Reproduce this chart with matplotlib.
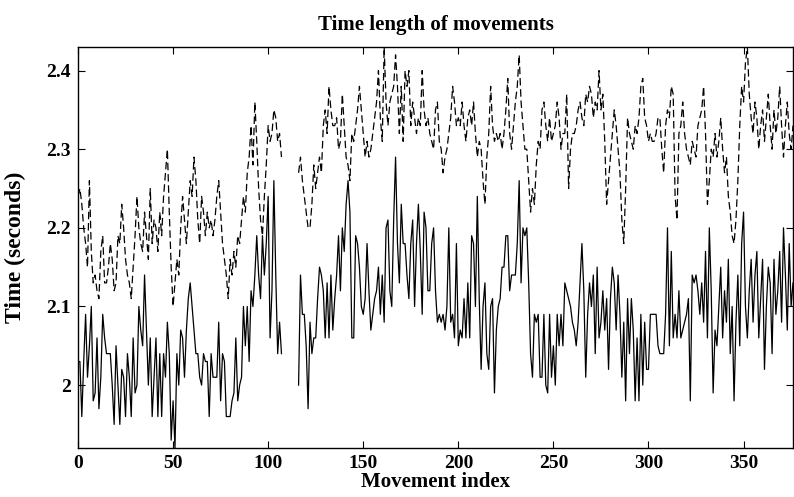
import numpy as np
import matplotlib
matplotlib.use('Agg')
import matplotlib.pyplot as plt
from matplotlib.ticker import FormatStrFormatter

nan = np.nan

# time of each movement, solid trace (seconds)
solid = np.array([
    2.03, 2.03, 1.96, 2.03, 2.09, 2.01, 2.05, 2.10, 1.98, 1.99,
    2.06, 1.97, 2.01, 2.09, 2.06, 2.04, 2.04, 2.04, 2.00, 1.95,
    2.05, 2.00, 1.95, 2.02, 2.01, 1.96, 2.04, 2.01, 1.96, 2.06,
    1.99, 2.00, 2.10, 2.07, 2.05, 2.14, 2.07, 2.00, 2.06, 1.96,
    2.01, 2.06, 1.96, 2.04, 1.96, 2.04, 2.01, 2.08, 2.04, 1.93,
    1.98, 1.92, 2.04, 2.00, 2.07, 2.06, 2.01, 2.07, 2.11, 2.13,
    2.10, 2.07, 2.04, 2.04, 2.01, 2.00, 2.04, 2.03, 2.03, 1.96,
    2.04, 2.01, 2.01, 2.01, 2.08, 1.98, 2.04, 2.03, 1.96, 1.96,
    1.96, 1.98, 1.99, 2.06, 1.98, 2.00, 2.01, 2.10, 2.05, 2.10,
    2.03, 2.12, 2.10, 2.14, 2.19, 2.14, 2.11, 2.19, 2.14, 2.18,
    2.24, 2.06, 2.12, 2.26, 2.14, 2.04, 2.08, 2.04, nan, nan,
    nan, nan, nan, nan, nan, nan, 2.00, 2.14, 2.09, 2.09,
    2.05, 1.97, 2.08, 2.04, 2.06, 2.06, 2.11, 2.15, 2.14, 2.12,
    2.06, 2.13, 2.06, 2.14, 2.07, 2.11, 2.14, 2.19, 2.12, 2.20,
    2.17, 2.23, 2.26, 2.22, 2.06, 2.06, 2.19, 2.18, 2.15, 2.10,
    2.09, 2.11, 2.18, 2.12, 2.07, 2.09, 2.11, 2.12, 2.15, 2.09,
    2.14, 2.08, 2.20, 2.21, 2.12, 2.10, 2.21, 2.29, 2.18, 2.13,
    2.23, 2.18, 2.18, 2.14, 2.11, 2.18, 2.21, 2.10, 2.18, 2.23,
    2.17, 2.09, 2.22, 2.20, 2.12, 2.12, 2.18, 2.20, 2.12, 2.08,
    2.09, 2.08, 2.09, 2.07, 2.10, 2.20, 2.08, 2.09, 2.06, 2.18,
    2.05, 2.07, 2.06, 2.11, 2.06, 2.13, 2.06, 2.19, 2.18, 2.10,
    2.24, 2.11, 2.02, 2.10, 2.13, 2.04, 2.02, 2.10, 2.11, 1.99,
    2.07, 2.10, 2.11, 2.15, 2.15, 2.19, 2.19, 2.12, 2.14, 2.14,
    2.14, 2.18, 2.26, 2.13, 2.20, 2.19, 2.20, 2.13, 2.04, 2.01,
    2.09, 2.08, 2.09, 2.01, 2.01, 2.09, 2.00, 1.99, 2.09, 2.01,
    2.05, 2.00, 2.09, 2.05, 2.09, 2.05, 2.13, 2.12, 2.11, 2.10,
    2.08, 2.07, 2.05, 2.08, 2.13, 2.18, 2.12, 2.01, 2.09, 2.13,
    2.10, 2.14, 2.04, 2.15, 2.06, 2.08, 2.12, 2.07, 2.11, 2.02,
    2.11, 2.15, 2.13, 2.07, 2.14, 2.09, 2.01, 2.08, 1.98, 2.11,
    2.04, 2.11, 2.07, 1.98, 2.06, 1.98, 2.09, 2.00, 2.08, 2.02,
    2.02, 2.09, 2.09, 2.09, 2.09, 2.05, 2.04, 2.04, 2.04, 2.09,
    2.20, 2.05, 2.17, 2.06, 2.09, 2.06, 2.12, 2.06, 2.07, 2.08,
    2.09, 2.11, 1.98, 2.14, 2.13, 2.14, 2.12, 2.09, 2.13, 2.08,
    2.17, 2.06, 2.20, 2.12, 1.99, 2.07, 2.05, 2.10, 2.15, 2.06,
    2.12, 2.08, 2.16, 2.04, 2.10, 1.98, 2.08, 2.14, 2.05, 2.18,
    2.22, 2.10, 2.06, 2.12, 2.16, 2.08, 2.14, 2.17, 2.06, 2.11,
    2.16, 2.02, 2.10, 2.15, 2.13, 2.04, 2.16, 2.09, 2.12, 2.17,
    2.08, 2.20, 2.14, 2.07, 2.18, 2.10, 2.13,
])

# dashed trace (seconds)
dashed = np.array([
    2.24, 2.25, 2.23, 2.20, 2.18, 2.15, 2.26, 2.17, 2.13, 2.14,
    2.12, 2.11, 2.17, 2.19, 2.13, 2.13, 2.15, 2.18, 2.16, 2.12,
    2.13, 2.19, 2.18, 2.23, 2.20, 2.16, 2.14, 2.13, 2.11, 2.15,
    2.19, 2.24, 2.20, 2.18, 2.17, 2.22, 2.19, 2.16, 2.25, 2.18,
    2.21, 2.20, 2.17, 2.22, 2.19, 2.24, 2.27, 2.30, 2.22, 2.15,
    2.10, 2.13, 2.16, 2.14, 2.20, 2.24, 2.21, 2.18, 2.22, 2.26,
    2.24, 2.29, 2.26, 2.21, 2.18, 2.24, 2.22, 2.19, 2.22, 2.20,
    2.21, 2.19, 2.21, 2.24, 2.26, 2.22, 2.18, 2.16, 2.14, 2.11,
    2.16, 2.14, 2.17, 2.15, 2.19, 2.18, 2.21, 2.24, 2.22, 2.27,
    2.29, 2.33, 2.28, 2.36, 2.31, 2.25, 2.21, 2.19, 2.24, 2.28,
    2.33, 2.31, 2.32, 2.35, 2.34, 2.31, 2.32, 2.29, nan, nan,
    nan, nan, nan, nan, nan, nan, 2.27, 2.29, 2.26, 2.24,
    2.22, 2.20, 2.20, 2.23, 2.28, 2.25, 2.27, 2.29, 2.27, 2.33,
    2.35, 2.32, 2.38, 2.35, 2.33, 2.33, 2.34, 2.30, 2.31, 2.37,
    2.33, 2.29, 2.28, 2.26, 2.32, 2.31, 2.33, 2.35, 2.38, 2.35,
    2.32, 2.29, 2.31, 2.29, 2.30, 2.32, 2.34, 2.36, 2.40, 2.34,
    2.31, 2.43, 2.36, 2.33, 2.36, 2.37, 2.38, 2.42, 2.38, 2.32,
    2.38, 2.31, 2.40, 2.38, 2.40, 2.33, 2.36, 2.34, 2.32, 2.34,
    2.33, 2.40, 2.35, 2.33, 2.34, 2.32, 2.31, 2.30, 2.35, 2.36,
    2.31, 2.30, 2.27, 2.29, 2.30, 2.32, 2.34, 2.38, 2.36, 2.33,
    2.34, 2.33, 2.36, 2.33, 2.31, 2.34, 2.35, 2.33, 2.36, 2.32,
    2.29, 2.31, 2.30, 2.26, 2.23, 2.29, 2.32, 2.38, 2.33, 2.31,
    2.32, 2.31, 2.32, 2.30, 2.32, 2.35, 2.39, 2.32, 2.30, 2.33,
    2.36, 2.38, 2.42, 2.36, 2.33, 2.30, 2.30, 2.26, 2.22, 2.25,
    2.23, 2.28, 2.31, 2.30, 2.35, 2.36, 2.33, 2.31, 2.34, 2.31,
    2.32, 2.33, 2.36, 2.34, 2.30, 2.32, 2.32, 2.37, 2.25, 2.30,
    2.32, 2.32, 2.33, 2.35, 2.36, 2.34, 2.33, 2.37, 2.36, 2.38,
    2.37, 2.34, 2.36, 2.35, 2.40, 2.35, 2.37, 2.31, 2.23, 2.26,
    2.29, 2.32, 2.35, 2.33, 2.30, 2.27, 2.21, 2.18, 2.25, 2.34,
    2.32, 2.31, 2.30, 2.33, 2.32, 2.34, 2.38, 2.39, 2.34, 2.33,
    2.31, 2.32, 2.31, 2.31, 2.32, 2.34, 2.34, 2.30, 2.27, 2.33,
    2.35, 2.34, 2.38, 2.37, 2.24, 2.21, 2.32, 2.33, 2.36, 2.32,
    2.30, 2.29, 2.28, 2.31, 2.30, 2.29, 2.33, 2.34, 2.35, 2.38,
    2.32, 2.23, 2.26, 2.30, 2.29, 2.32, 2.29, 2.31, 2.34, 2.30,
    2.27, 2.29, 2.24, 2.22, 2.19, 2.18, 2.21, 2.26, 2.33, 2.38,
    2.36, 2.41, 2.43, 2.37, 2.34, 2.32, 2.36, 2.34, 2.30, 2.33,
    2.35, 2.31, 2.34, 2.37, 2.33, 2.30, 2.35, 2.32, 2.34, 2.38,
    2.33, 2.29, 2.33, 2.36, 2.32, 2.30, 2.33,
])

x_ticks = [0, 50, 100, 150, 200, 250, 300, 350]
y_ticks = [2.0, 2.1, 2.2, 2.3, 2.4]

plt.rcParams['font.family'] = ['Liberation Serif', 'DejaVu Serif']
plt.rcParams['font.weight'] = 'bold'
plt.rcParams['axes.titleweight'] = 'bold'
plt.rcParams['axes.labelweight'] = 'bold'

fig = plt.figure(figsize=(7.94, 4.97), dpi=100)
ax = fig.add_axes([78 / 794, 1 - 448 / 497, (793 - 78) / 794, (448 - 47) / 497])

idx = np.arange(len(solid))
ax.plot(idx, dashed, color='black', lw=0.9, linestyle=(0, (6, 3)))
ax.plot(idx, solid, color='black', lw=0.9)

# axis tight, as in the original
ax.set_xlim(0, len(solid) - 1)
ax.set_ylim(np.nanmin(solid), np.nanmax(dashed))
ax.set_xticks(x_ticks)
ax.set_yticks(y_ticks)
ax.yaxis.set_major_formatter(FormatStrFormatter('%g'))
ax.tick_params(direction='in', top=True, right=True, length=5, width=0.8, labelsize=14, pad=5)
for s in ax.spines.values():
    s.set_linewidth(1.0)

ax.set_title('Time length of movements', fontsize=15, pad=12)
ax.set_xlabel('Movement index', fontsize=15, labelpad=0)
ax.set_ylabel('Time (seconds)', fontsize=17)
ax.yaxis.set_label_coords(-0.072, 0.5)

fig.savefig('out.png', dpi=100)
